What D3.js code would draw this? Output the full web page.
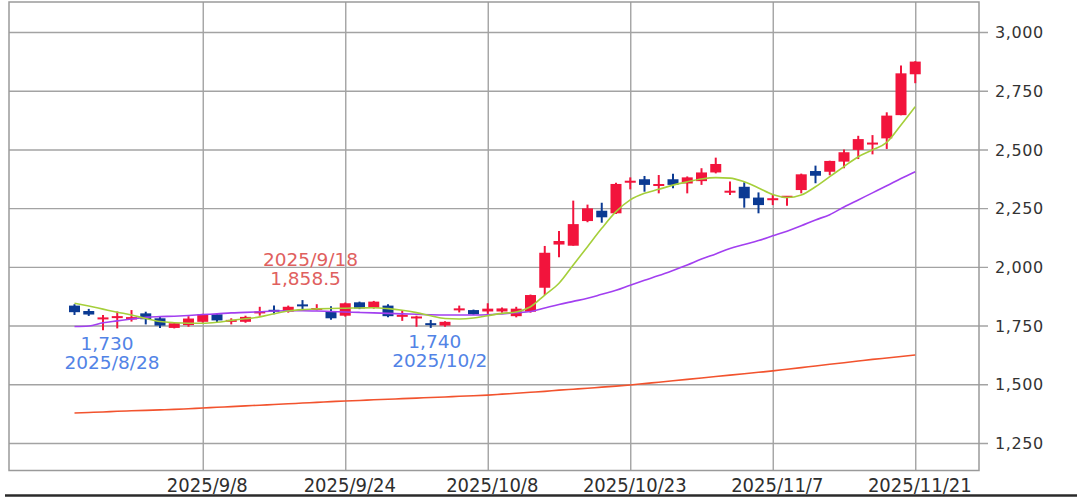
<!DOCTYPE html>
<html>
<head>
<meta charset="utf-8">
<script src="https://cdn.jsdelivr.net/npm/d3@7"></script>
<style>
  html, body { margin: 0; padding: 0; background: #fff; }
  svg { display: block; }
</style>
</head>
<body>
<div id="chart"></div>
<script>
// ---- data ----
const dates = ["2025/8/26","2025/8/27","2025/8/28","2025/8/29","2025/9/1","2025/9/2","2025/9/3","2025/9/4","2025/9/5","2025/9/8","2025/9/9","2025/9/10","2025/9/11","2025/9/12","2025/9/16","2025/9/17","2025/9/18","2025/9/19","2025/9/22","2025/9/24","2025/9/25","2025/9/26","2025/9/29","2025/9/30","2025/10/1","2025/10/2","2025/10/3","2025/10/6","2025/10/7","2025/10/8","2025/10/9","2025/10/10","2025/10/14","2025/10/15","2025/10/16","2025/10/17","2025/10/20","2025/10/21","2025/10/22","2025/10/23","2025/10/24","2025/10/27","2025/10/28","2025/10/29","2025/10/30","2025/10/31","2025/11/4","2025/11/5","2025/11/6","2025/11/7","2025/11/10","2025/11/11","2025/11/12","2025/11/13","2025/11/14","2025/11/17","2025/11/18","2025/11/19","2025/11/20","2025/11/21"];
const open  = [1835,1812,1779,1782,1776,1802,1781,1740,1752,1766,1798,1768,1766,1804,1814,1809,1840,1817,1809,1792,1849,1826,1835,1790,1783,1758,1750,1816,1816,1810,1810,1790,1809,1911,2095,2090,2195,2239,2228,2360,2373,2345,2373,2355,2365,2402,2318,2341,2295,2286,2297,2327,2408,2405,2448,2498,2522,2547,2646,2820];
const high  = [1841,1821,1795,1810,1816,1809,1788,1762,1790,1800,1802,1781,1792,1830,1835,1835,1858.5,1841,1832,1848,1852,1855,1841,1816,1792,1774,1768,1835,1818,1845,1827,1830,1882,2089,2153,2282,2265,2273,2358,2381,2387,2391,2396,2385,2420,2465,2363,2360,2317,2306,2301,2397,2431,2452,2500,2558,2561,2658,2857,2876];
const low   = [1795,1791,1730,1738,1767,1755,1740,1738,1745,1762,1765,1755,1762,1792,1798,1805,1820,1815,1775,1788,1820,1822,1785,1770,1745,1740,1745,1806,1796,1800,1805,1785,1805,1880,2041,2090,2190,2188,2225,2330,2320,2313,2335,2313,2349,2398,2306,2252,2228,2263,2260,2313,2356,2390,2420,2459,2479,2502,2646,2782];
const close = [1807,1797,1782,1790,1786,1777,1750,1760,1780,1798,1772,1772,1787,1808,1812,1830,1832,1824,1781,1845,1823,1852,1790,1793,1786,1754,1766,1822,1798,1822,1823,1822,1880,2060,2110,2182,2249,2211,2353,2365,2349,2352,2349,2381,2402,2438,2322,2292,2263,2290,2300,2394,2388,2451,2488,2544,2528,2644,2824,2874];
const ma5   = [1845,1833,1820,1807,1795,1780,1767,1762,1760,1760,1764,1772,1779,1787,1800,1812,1818,1821,1823,1824,1825,1826,1822,1815,1805,1792,1780,1778,1782,1792,1802,1808,1830,1880,1930,2008,2086,2164,2235,2285,2313,2330,2348,2362,2374,2380,2378,2362,2336,2308,2295,2306,2341,2384,2427,2469,2498,2530,2604,2682];
const ma25  = [1746,1748,1762,1770,1778,1785,1788,1790,1793,1797,1800,1804,1806,1809,1812,1813,1813,1812,1810,1808,1806,1804,1802,1800,1798,1796,1795,1795,1795,1796,1800,1805,1810,1825,1840,1853,1866,1883,1900,1922,1943,1963,1985,2008,2033,2055,2078,2095,2112,2132,2152,2175,2200,2222,2255,2285,2315,2345,2376,2405];
const ma75  = [1378,1380,1382,1385,1387,1389,1391,1393,1396,1399,1402,1405,1408,1411,1414,1417,1420,1423,1426,1429,1431,1434,1436,1439,1441,1444,1446,1449,1451,1454,1458,1462,1466,1470,1475,1479,1483,1488,1492,1497,1503,1509,1515,1521,1527,1533,1539,1545,1551,1557,1564,1571,1578,1585,1592,1599,1606,1612,1618,1625];
const xTickLabels = ["2025/9/8","2025/9/24","2025/10/8","2025/10/23","2025/11/7","2025/11/21"];
const yTickValues = [1250,1500,1750,2000,2250,2500,2750,3000];
const highMark = { date: "2025/9/18", value: 1858.5 };
const lowMarks = [ { date: "2025/8/28", value: 1730 }, { date: "2025/10/2", value: 1740 } ];

// ---- layout ----
const W = 1077, H = 497;
const plot = { left: 9, right: 979, top: 2, bottom: 470.5 };
const svg = d3.select("#chart").append("svg").attr("width", W).attr("height", H);
svg.append("rect").attr("width", W).attr("height", H).attr("fill", "#fff");

const x = d3.scalePoint().domain(dates).range([74.5, 915.25]);
const y = d3.scaleLinear().domain([1250, 3000]).range([443, 32]);

const fmt = d3.format(",");
const gridColor = "#a3a3a3";

// horizontal grid + right ticks
const yAxis = d3.axisRight(y).tickValues(yTickValues).tickSize(-(plot.right - plot.left)).tickPadding(16).tickFormat(fmt);
const gy = svg.append("g").attr("transform", `translate(${plot.right + 9},0)`).call(yAxis);
gy.select(".domain").remove();
gy.selectAll(".tick line").attr("stroke", gridColor).attr("stroke-width", 1.4).attr("x1", -9 - (plot.right - plot.left)).attr("x2", 0);
gy.selectAll(".tick text").attr("fill", "#333").attr("font-family", "DejaVu Sans, Verdana, sans-serif")
  .attr("font-size", 16).attr("dy", "0.35em").attr("x", 7).attr("letter-spacing", "0.6px");

// vertical grid
const xAxis = d3.axisBottom(x).tickValues(xTickLabels).tickSize(-(plot.bottom - plot.top)).tickPadding(0).tickFormat(d => d);
const gx = svg.append("g").attr("transform", `translate(0,${plot.bottom})`).call(xAxis);
gx.select(".domain").remove();
gx.selectAll(".tick line").attr("stroke", gridColor).attr("stroke-width", 1.4);
gx.selectAll(".tick text").attr("fill", "#2e2e2e")
  .attr("font-family", "DejaVu Sans Condensed, DejaVu Sans, sans-serif").attr("font-stretch", "condensed")
  .attr("font-size", 20).attr("x", 4).attr("y", 21.5).attr("dy", 0);

// frame
svg.append("rect").attr("x", plot.left).attr("y", plot.top)
  .attr("width", plot.right - plot.left).attr("height", plot.bottom - plot.top)
  .attr("fill", "none").attr("stroke", "#9a9a9a").attr("stroke-width", 1.5);

// bottom dark rule
svg.append("line").attr("x1", 5).attr("x2", W).attr("y1", 495.5).attr("y2", 495.5)
  .attr("stroke", "#2a2a2a").attr("stroke-width", 2.5);

// candles
const up = "#f2143c", down = "#0b3a93";
const candles = svg.append("g");
dates.forEach((d, i) => {
  const cx = x(d);
  const o = open[i], c = close[i], h = high[i], l = low[i];
  const col = c >= o ? up : down;
  candles.append("line").attr("x1", cx).attr("x2", cx).attr("y1", y(h)).attr("y2", y(l))
    .attr("stroke", col).attr("stroke-width", 2);
  const top = y(Math.max(o, c)), bot = y(Math.min(o, c));
  const hgt = Math.max(2, bot - top);
  candles.append("rect").attr("x", cx - 5.5).attr("y", (top + bot) / 2 - hgt / 2)
    .attr("width", 11).attr("height", hgt).attr("fill", col);
});

// moving averages
const lineGen = arr => d3.line().x((v, i) => x(dates[i])).y(v => y(v)).curve(d3.curveMonotoneX)(arr);
svg.append("path").attr("d", lineGen(ma75)).attr("fill", "none").attr("stroke", "#f2532e").attr("stroke-width", 1.6);
svg.append("path").attr("d", lineGen(ma25)).attr("fill", "none").attr("stroke", "#a23ff0").attr("stroke-width", 1.6);
svg.append("path").attr("d", lineGen(ma5)).attr("fill", "none").attr("stroke", "#a5cf3a").attr("stroke-width", 1.6);

// annotations
const annFont = "DejaVu Sans, Verdana, sans-serif";
const hx = x(highMark.date), hy = y(highMark.value);
svg.append("text").attr("x", hx + 8).attr("y", hy - 34).attr("text-anchor", "middle")
  .attr("font-family", annFont).attr("font-size", 18.5).attr("fill", "#e0605e").text(highMark.date);
svg.append("text").attr("x", hx + 3).attr("y", hy - 15).attr("text-anchor", "middle")
  .attr("font-family", annFont).attr("font-size", 18.5).attr("fill", "#e0605e").text(d3.format(",.1f")(highMark.value));
lowMarks.forEach(m => {
  const lx = x(m.date), ly = y(m.value);
  svg.append("text").attr("x", lx + 4).attr("y", ly + 20).attr("text-anchor", "middle")
    .attr("font-family", annFont).attr("font-size", 18.5).attr("fill", "#5283e6").text(fmt(m.value));
  svg.append("text").attr("x", lx + 9).attr("y", ly + 39).attr("text-anchor", "middle")
    .attr("font-family", annFont).attr("font-size", 18.5).attr("fill", "#5283e6").text(m.date);
});
</script>
</body>
</html>
